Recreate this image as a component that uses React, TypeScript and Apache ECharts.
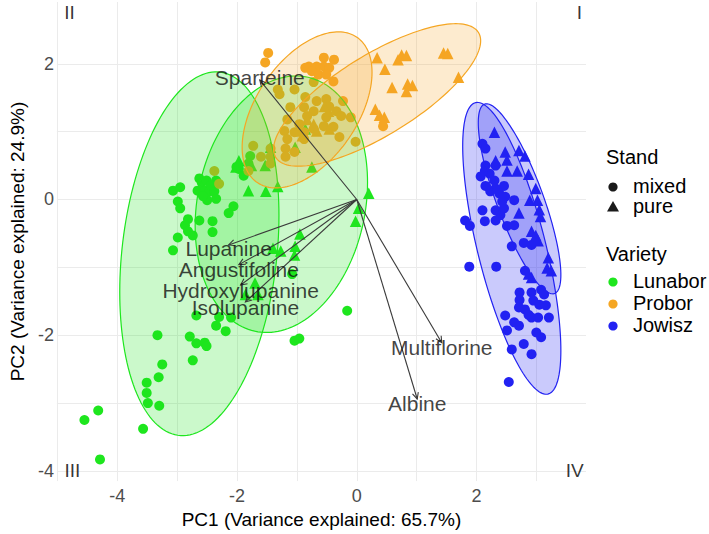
import { useEffect, useRef } from 'react';
import * as echarts from 'echarts';

const FONT = '"Liberation Sans", Arial, Helvetica, sans-serif';

const varietyNames = ['Lunabor', 'Probor', 'Jowisz'];
const standNames = ['mixed', 'pure'];
const varietyColors = ['#1ee61e', '#f5a623', '#2222f2'];
const varietyFills = ['rgba(30,230,30,0.23)', 'rgba(245,166,35,0.22)', 'rgba(34,34,242,0.24)'];

const lunaborMixed: number[][] = [
  [-3.07, 0.13], [-2.95, 0.18], [-2.63, 0.31], [-2.59, 0.25], [-2.51, 0.28], [-2.66, 0.13], [-2.54, 0.13],
  [-2.46, 0.12], [-2.38, 0.12], [-2.35, 0.28], [-2.50, -0.01], [-2.35, 0.01], [-2.99, -0.03], [-2.95, -0.13],
  [-2.82, -0.29], [-2.63, -0.31], [-2.41, -0.32], [-2.06, -0.10], [-2.14, -0.20], [-2.87, -0.38], [-2.82, -0.47],
  [-2.74, -0.53], [-2.41, -0.48], [-2.99, -0.56], [-3.07, -0.75], [-1.89, 0.35], [-2.01, 0.48], [-1.78, 0.64],
  [-1.81, 0.53], [-1.97, 0.45], [-3.33, -2.00], [-2.79, -2.02], [-2.68, -2.12], [-2.54, -2.11], [-2.51, -2.16],
  [-2.74, -2.37], [-3.25, -2.43], [-3.31, -2.62], [-3.51, -2.70], [-3.51, -2.85], [-3.49, -3.00], [-3.30, -3.04],
  [-4.32, -3.11], [-4.55, -3.25], [-3.57, -3.38], [-4.29, -3.83], [-2.68, -1.71], [-2.35, -1.86], [-2.30, -1.73],
  [-2.19, -1.94], [-2.10, -1.74], [-1.04, -2.08], [-0.96, -2.05], [-0.16, -1.64], [-1.08, -1.10], [-2.44, 0.21],
  [-2.57, 0.05],
];

const lunaborPure: number[][] = [
  [-1.97, 0.57], [-2.02, 0.48], [-1.76, 0.50], [-1.53, 0.50], [-1.44, 0.77], [-1.81, 0.13], [-1.52, 0.12],
  [-1.32, 0.19], [-0.75, 0.48], [-1.03, 0.77], [-0.86, 1.04], [0.20, 0.09], [0.03, -0.13], [-0.02, -0.32],
  [-0.95, -0.51], [-1.03, -0.69], [-1.04, -0.82], [-1.40, -0.72], [-1.70, -1.23], [-1.65, -1.40], [-1.27, -0.76],
  [-1.86, -1.40],
];

const proborMixed: number[][] = [
  [-1.48, 2.16], [-1.53, 2.02], [-0.55, 2.09], [-0.38, 2.06], [-0.80, 1.96], [-0.86, 1.94], [-0.67, 1.96],
  [-0.55, 1.96], [-0.46, 1.94], [-0.75, 1.89], [-0.64, 1.84], [-0.51, 1.84], [-0.39, 1.74], [-0.72, 1.73],
  [-1.04, 1.62], [-1.32, 1.62], [-1.29, 1.55], [-0.86, 1.51], [-1.11, 1.36], [-0.88, 1.36], [-0.67, 1.45],
  [-0.51, 1.48], [-0.46, 1.37], [-0.23, 1.45], [-0.34, 1.30], [-0.72, 1.30], [-1.16, 1.18], [-0.96, 1.11],
  [-0.83, 1.23], [-0.51, 1.21], [-0.26, 1.23], [-0.10, 1.21], [-0.55, 1.08], [-0.39, 1.07], [-1.21, 1.01],
  [-1.04, 0.99], [-0.88, 0.99], [-0.72, 1.04], [-1.16, 0.89], [-0.88, 0.89], [-0.29, 0.92], [-0.02, 0.85],
  [-1.73, 0.79], [-1.44, 0.75], [-1.19, 0.75], [-1.04, 0.70], [-1.60, 0.63], [-1.44, 0.63], [-1.44, 0.53],
  [-1.19, 0.63], [0.44, 1.08], [-2.38, 0.42], [-2.30, 0.23], [-1.81, 0.42],
];

const proborPure: number[][] = [
  [0.34, 2.09], [0.69, 2.06], [0.75, 2.13], [0.83, 2.12], [0.47, 1.92], [0.59, 1.65], [0.85, 1.70],
  [0.93, 1.68], [0.83, 1.59], [1.45, 2.16], [1.52, 2.15], [1.70, 1.80], [0.31, 1.33], [0.38, 1.24],
  [0.46, 1.21], [-0.47, 1.30], [-0.72, 1.11], [-0.83, 1.18], [-0.46, 1.04], [-0.67, 1.01], [-0.95, 1.01],
  [-0.91, 0.94], [-0.54, 1.37],
];

const jowiszMixed: number[][] = [
  [2.10, 0.82], [2.15, 0.75], [2.15, 0.50], [2.14, 0.42], [2.07, 0.34], [2.22, 0.38], [2.32, 0.50],
  [2.30, 0.28], [2.15, 0.20], [2.23, 0.12], [2.32, 0.16], [2.38, 0.09], [2.46, 0.20], [2.48, 0.04],
  [2.43, -0.03], [2.63, -0.01], [2.10, -0.16], [2.32, -0.16], [2.46, -0.13], [1.81, -0.31], [1.89, -0.39],
  [2.14, -0.32], [2.32, -0.31], [2.40, -0.23], [2.51, -0.39], [2.63, -0.38], [2.59, -0.69], [2.79, -0.64],
  [2.92, -0.67], [1.88, -0.99], [2.33, -0.99], [2.81, -1.05], [2.72, -1.37], [2.92, -1.37], [2.72, -1.48],
  [2.95, -1.49], [3.05, -1.55], [3.16, -1.56], [2.71, -1.59], [2.81, -1.62], [2.87, -1.70], [2.92, -1.74],
  [3.03, -1.74], [3.21, -1.74], [2.48, -1.71], [2.63, -1.81], [2.71, -1.86], [2.51, -1.93], [3.00, -1.96],
  [3.08, -2.03], [2.79, -2.13], [2.59, -2.21], [2.92, -2.28], [2.54, -2.69], [3.08, -1.33], [3.13, -1.40],
];

const jowiszPure: number[][] = [
  [2.30, 0.99], [2.48, 0.70], [2.71, 0.72], [2.81, 0.64], [2.32, 0.57], [2.51, 0.58], [2.51, 0.42],
  [2.68, 0.42], [2.87, 0.37], [2.99, 0.16], [2.89, -0.01], [3.02, -0.01], [3.05, -0.15], [2.71, -0.20],
  [3.07, -0.25], [2.92, -0.47], [2.99, -0.53], [3.03, -0.61], [3.20, -0.86], [3.25, -1.05], [2.87, -1.10],
  [2.92, -1.15], [3.18, -1.01],
];

// ellipse summaries: centre x, centre y, half-extent x, half-extent y, correlation
const ellipseLunaborMixed = [-2.63, -0.80, 1.33, 2.68, 0.21];
const ellipseLunaborPure = [-1.26, -0.07, 1.44, 1.89, 0.17];
const ellipseProborMixed = [-0.83, 1.32, 1.085, 1.15, 0.48];
const ellipseProborPure = [0.34, 1.54, 1.73, 1.05, 0.76];
const ellipseJowiszMixed = [2.59, -0.72, 0.82, 2.15, -0.70];
const ellipseJowiszPure = [2.72, 0.01, 0.69, 1.40, -0.80];

const loadingNames = ['Sparteine', 'Lupanine', 'Angustifoline', 'Hydroxylupanine', 'Isolupanine', 'Multiflorine', 'Albine'];
const loadingX = [-1.62, -2.14, -1.97, -1.94, -1.86, 1.42, 1.01];
const loadingY = [1.76, -0.67, -0.96, -1.26, -1.51, -2.11, -2.94];
// vertical nudge of each loading label (pixels)
const loadingLabelNudge = [-3, 4, 5, 6, 6, 5, 5];

const quadrantNames = ['I', 'II', 'III', 'IV'];
const quadrantX = [3.72, -4.80, -4.75, 3.64];
const quadrantY = [2.75, 2.75, -4.0, -4.0];

const xTitle = 'PC1 (Variance explained: 65.7%)';
const yTitle = 'PC2 (Variance explained: 24.9%)';

const evenLabel = (v: number) => {
  const r = Math.round(v);
  if (Math.abs(v - r) > 1e-6 || r % 2 !== 0) return '';
  return String(r);
};

export default function App() {
  const ref = useRef<HTMLDivElement>(null);
  useEffect(() => {
    if (!ref.current) return;
    const chart = echarts.init(ref.current, null, { renderer: 'svg' });

    const pointSets = [
      [lunaborMixed, lunaborPure],
      [proborMixed, proborPure],
      [jowiszMixed, jowiszPure],
    ];
    const ellipseSets = [
      [ellipseLunaborMixed, ellipseLunaborPure],
      [ellipseProborMixed, ellipseProborPure],
      [ellipseJowiszMixed, ellipseJowiszPure],
    ];

    const scatterSeries: any[] = [];
    pointSets.forEach((pair, vi) => {
      pair.forEach((pts, si) => {
        scatterSeries.push({
          type: 'scatter',
          name: varietyNames[vi] + ' ' + standNames[si],
          data: pts,
          symbol: si === 0 ? 'circle' : 'triangle',
          symbolSize: si === 0 ? 10 : 11.5,
          itemStyle: { color: varietyColors[vi], opacity: 1 },
          z: 2,
          silent: true,
        });
      });
    });

    const ellipseData: any[] = [];
    ellipseSets.forEach((pair, vi) => {
      pair.forEach((e) => {
        ellipseData.push([...e, vi]);
      });
    });

    const ellipseSeries = {
      type: 'custom',
      z: 3,
      silent: true,
      data: ellipseData,
      encode: { x: 0, y: 1 },
      renderItem: (_p: any, api: any) => {
        const cx = api.value(0), cy = api.value(1), sx = api.value(2), sy = api.value(3), rho = api.value(4);
        const vi = api.value(5);
        const k = Math.sqrt(1 - rho * rho);
        const pts: number[][] = [];
        const n = 160;
        for (let i = 0; i < n; i++) {
          const t = (i / n) * Math.PI * 2;
          const x = cx + sx * Math.cos(t);
          const y = cy + sy * (rho * Math.cos(t) + k * Math.sin(t));
          pts.push(api.coord([x, y]));
        }
        return {
          type: 'polygon',
          shape: { points: pts },
          style: { fill: varietyFills[vi], stroke: varietyColors[vi], lineWidth: 1.2 },
        };
      },
    };

    const arrowData = loadingX.map((x, i) => [x, loadingY[i], loadingNames[i]]);
    const arrowSeries = {
      type: 'custom',
      z: 4,
      silent: true,
      data: arrowData,
      encode: { x: 0, y: 1 },
      renderItem: (_p: any, api: any) => {
        const o = api.coord([0, 0]);
        const t = api.coord([api.value(0), api.value(1)]);
        const ang = Math.atan2(t[1] - o[1], t[0] - o[0]);
        const L = 7, a = Math.PI / 7;
        const p1 = [t[0] - L * Math.cos(ang - a), t[1] - L * Math.sin(ang - a)];
        const p2 = [t[0] - L * Math.cos(ang + a), t[1] - L * Math.sin(ang + a)];
        return {
          type: 'group',
          children: [
            { type: 'line', shape: { x1: o[0], y1: o[1], x2: t[0], y2: t[1] }, style: { stroke: '#3a3a3a', lineWidth: 1.1 } },
            { type: 'polyline', shape: { points: [p1, t, p2] }, style: { stroke: '#3a3a3a', lineWidth: 1.1, fill: 'none' } },
          ],
        };
      },
    };

    const labelSeries = {
      type: 'scatter',
      z: 5,
      silent: true,
      data: arrowData.map((d, i) => ({
        value: d,
        label: { offset: [0, loadingLabelNudge[i]] },
      })),
      symbolSize: 1,
      itemStyle: { color: 'rgba(0,0,0,0)' },
      label: {
        show: true,
        position: 'inside',
        formatter: (p: any) => p.value[2],
        fontSize: 21,
        fontFamily: FONT,
        color: '#111',
      },
    };

    const quadrantSeries = {
      type: 'scatter',
      z: 5,
      silent: true,
      data: quadrantX.map((x, i) => [x, quadrantY[i], quadrantNames[i]]),
      symbolSize: 1,
      itemStyle: { color: 'rgba(0,0,0,0)' },
      label: {
        show: true,
        position: 'inside',
        formatter: (p: any) => p.value[2],
        fontSize: 19,
        fontFamily: FONT,
        color: '#000',
      },
    };

    const legendX = 606;
    const legendGraphic: any[] = [
      { type: 'text', left: legendX, top: 147, style: { text: 'Stand', fontSize: 20, fontFamily: FONT, fill: '#000' } },
      { type: 'circle', shape: { cx: 613, cy: 187, r: 4.6 }, style: { fill: '#1a1a1a' } },
      { type: 'text', left: 633, top: 176, style: { text: standNames[0], fontSize: 20, fontFamily: FONT, fill: '#000' } },
      { type: 'polygon', shape: { points: [[607, 211.5], [619, 211.5], [613, 201]] }, style: { fill: '#1a1a1a' } },
      { type: 'text', left: 633, top: 196, style: { text: standNames[1], fontSize: 20, fontFamily: FONT, fill: '#000' } },
      { type: 'text', left: legendX, top: 244, style: { text: 'Variety', fontSize: 20, fontFamily: FONT, fill: '#000' } },
    ];
    varietyNames.forEach((nm, i) => {
      const cy = 282 + i * 22;
      legendGraphic.push({ type: 'circle', shape: { cx: 613, cy, r: 4.6 }, style: { fill: varietyColors[i] } });
      legendGraphic.push({ type: 'text', left: 633, top: cy - 11, style: { text: nm, fontSize: 20, fontFamily: FONT, fill: '#000' } });
    });

    const axisCommon = {
      type: 'value',
      minInterval: 1,
      maxInterval: 1,
      axisLine: { show: false },
      axisTick: { show: false },
      splitLine: { show: true, showMinLine: false, showMaxLine: false, lineStyle: { color: '#ebebeb', width: 1 } },
      nameLocation: 'middle',
      nameTextStyle: { fontSize: 19, fontFamily: FONT, color: '#000' },
    };

    chart.setOption({
      animation: false,
      textStyle: { fontFamily: FONT },
      grid: { left: 44, right: 123, top: 2, bottom: 49, containLabel: false },
      xAxis: {
        ...axisCommon,
        min: -5.01,
        max: 3.83,
        name: xTitle,
        nameGap: 28,
        axisLabel: { formatter: evenLabel, fontSize: 18, color: '#4d4d4d', margin: 6, fontFamily: FONT, showMinLabel: false, showMaxLabel: false },
      },
      yAxis: {
        ...axisCommon,
        min: -4.15,
        max: 2.91,
        name: yTitle,
        nameGap: 21,
        nameRotate: 90,
        axisLabel: { formatter: evenLabel, fontSize: 18, color: '#4d4d4d', margin: 3, fontFamily: FONT, showMinLabel: false, showMaxLabel: false },
      },
      graphic: legendGraphic,
      series: [...scatterSeries, ellipseSeries, arrowSeries, labelSeries, quadrantSeries],
    });

    return () => chart.dispose();
  }, []);

  return <div ref={ref} style={{ position: 'fixed', left: 0, top: 0, width: '709px', height: '534px', background: '#fff' }} />;
}
